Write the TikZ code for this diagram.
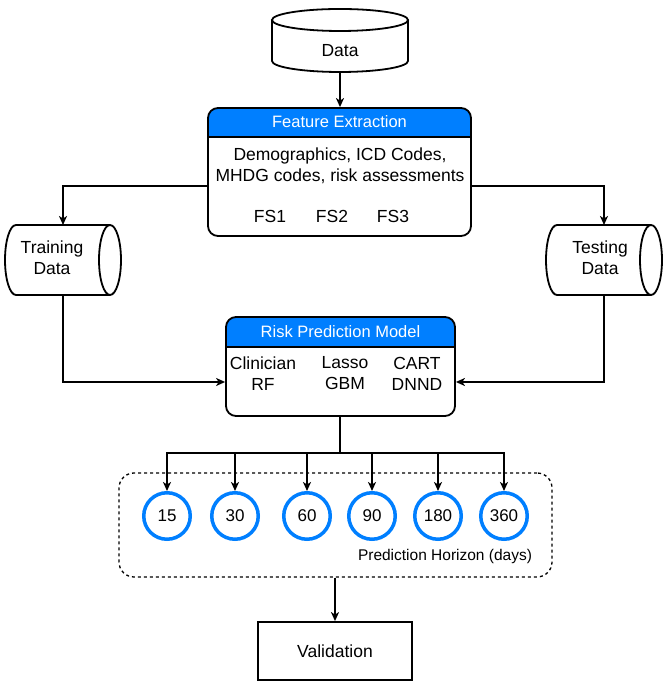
\documentclass[tikz,border=0pt]{standalone}
\usepackage{fontspec}
\setmainfont{Liberation Sans}
\usetikzlibrary{arrows.meta,backgrounds,calc}
\definecolor{hdrblue}{RGB}{0,127,255}
\begin{document}
\begin{tikzpicture}[x=1pt,y=1pt,
  shp/.style={line width=1.8pt},
  shapebox/.style={inner sep=0pt,outer sep=0pt},
  box/.style={draw,line width=1.8pt,rounded corners=10pt,inner sep=0pt},
  sep/.style={line width=1.4pt},
  hdrfill/.style={fill=hdrblue},
  ln/.style={line width=1.6pt},
  arr/.style={line width=1.6pt,-{Stealth[length=9pt,width=8pt,inset=2.5pt]}},
  txt/.style={font=\fontsize{17.5}{21}\selectfont,align=center,inner sep=0pt},
  hdrtxt/.style={font=\fontsize{16.5}{20}\selectfont,text=white,inner sep=0pt},
  hz/.style={circle,draw=hdrblue,line width=3.5pt,minimum size=46.5pt,inner sep=0pt,font=\fontsize{17}{20}\selectfont},
  hzbox/.style={draw,line width=1.3pt,dash pattern=on 3pt off 3pt,rounded corners=15pt,inner sep=0pt},
  hzlabel/.style={font=\fontsize{15.5}{18}\selectfont,inner sep=0pt},
  valbox/.style={draw,line width=1.8pt,inner sep=0pt}
]
\useasboundingbox (0,0) rectangle (665,687);

% Data cylinder
\node[shapebox,minimum width=136,minimum height=63] (data) at (340,646.5) {};
\draw[shp] (272,667) -- (272,626) arc[start angle=180,end angle=360,x radius=68,y radius=11] -- (408,667);
\draw[shp] (340,667) ellipse[x radius=68,y radius=11];
\node[txt] at (340,636) {Data};

% Feature Extraction
\node[box,minimum width=263,minimum height=128] (fe) at (339.5,515) {};
\begin{pgfonlayer}{background}
\fill[hdrfill] (208,550) [rounded corners=10pt] -- (208,579) -- (471,579) [sharp corners] -- (471,550) -- cycle;
\end{pgfonlayer}
\draw[sep] (208,550) -- (471,550);
\node[hdrtxt] at (339.5,565) {Feature Extraction};
\node[txt] at (340,521.5) {Demographics, ICD Codes,\\MHDG codes, risk assessments};
\node[txt] at (270,471) {FS1};
\node[txt] at (332,471) {FS2};
\node[txt] at (393,471) {FS3};

% Training Data
\node[shapebox,minimum width=116,minimum height=70] (train) at (63,427) {};
\draw[shp] (110,462) -- (16,462) arc[start angle=90,end angle=270,x radius=11,y radius=35] -- (110,392);
\draw[shp] (110,427) ellipse[x radius=11,y radius=35];
\node[txt] at (52,429.5) {Training\\Data};

% Testing Data
\node[shapebox,minimum width=116,minimum height=70] (test) at (604,427) {};
\draw[shp] (651,462) -- (557,462) arc[start angle=90,end angle=270,x radius=11,y radius=35] -- (651,392);
\draw[shp] (651,427) ellipse[x radius=11,y radius=35];
\node[txt] at (600,429.5) {Testing\\Data};

% Risk Prediction Model
\node[box,minimum width=229,minimum height=99] (risk) at (340.5,320.5) {};
\begin{pgfonlayer}{background}
\fill[hdrfill] (226,340) [rounded corners=10pt] -- (226,370) -- (455,370) [sharp corners] -- (455,340) -- cycle;
\end{pgfonlayer}
\draw[sep] (226,340) -- (455,340);
\node[hdrtxt] at (340.5,355) {Risk Prediction Model};
\node[txt] at (263,313.5) {Clinician\\RF};
\node[txt] at (345,313.5) {Lasso\\GBM};
\node[txt] at (417,313.5) {CART\\DNND};

% Connectors upper
\draw[arr] (data.south) -- (data.south |- fe.north);
\draw[arr] (fe.west |- 0,501) -| (train.north);
\draw[arr] (fe.east |- 0,501) -| (test.north);
\draw[arr] (train.south) |- (risk.west |- 0,305);
\draw[arr] (test.south) |- (risk.east |- 0,305);

% Horizons
\node[hzbox,minimum width=433,minimum height=104] (hor) at (335.5,162) {};
\node[hzlabel] at (445,131) {Prediction Horizon (days)};
\node[hz] (h15) at (167,171) {15};
\node[hz] (h30) at (235,171) {30};
\node[hz] (h60) at (307,171) {60};
\node[hz] (h90) at (372,171) {90};
\node[hz] (h180) at (438,171) {180};
\node[hz] (h360) at (504,171) {360};

\coordinate (br) at (340,234);
\draw[ln] (br |- risk.south) -- (br);
\foreach \c in {h15,h30,h60,h90,h180,h360}
  \draw[arr] (br) -| (\c.north);

% Validation
\node[valbox,txt,minimum width=154,minimum height=58] (val) at (335,36) {Validation};
\draw[arr] (val.north |- hor.south) -- (val.north);
\end{tikzpicture}
\end{document}
